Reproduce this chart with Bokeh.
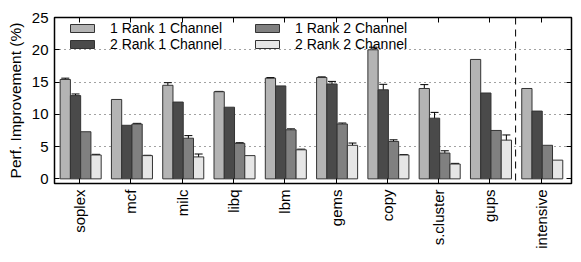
from bokeh.plotting import figure
from bokeh.models import (Range1d, FixedTicker, LinearAxis, Legend, LegendItem,
                          Span, Whisker, ColumnDataSource, TeeHead)
from bokeh.transform import dodge
from bokeh.embed import file_html
from bokeh.resources import INLINE

categories = ["soplex", "mcf", "milc", "libq", "lbm", "gems", "copy",
              "s.cluster", "gups", "intensive"]
series_names = ["1 Rank 1 Channel", "2 Rank 1 Channel",
                "1 Rank 2 Channel", "2 Rank 2 Channel"]
r1c1 = [15.4, 12.3, 14.5, 13.5, 15.6, 15.7, 20.0, 14.0, 18.5, 14.0]
r2c1 = [12.9, 8.3, 11.9, 11.1, 14.4, 14.7, 13.8, 9.4, 13.3, 10.5]
r1c2 = [7.3, 8.5, 6.3, 5.5, 7.6, 8.5, 5.8, 4.0, 7.5, 5.2]
r2c2 = [3.7, 3.6, 3.4, 3.6, 4.5, 5.2, 3.7, 2.3, 6.0, 2.9]
err_r1c1 = [0.2, 0.0, 0.4, 0.05, 0.1, 0.1, 0.4, 0.6, 0.0, 0.0]
err_r2c1 = [0.25, 0.0, 0.0, 0.0, 0.0, 0.4, 0.85, 0.9, 0.0, 0.0]
err_r1c2 = [0.0, 0.1, 0.4, 0.1, 0.15, 0.15, 0.25, 0.35, 0.0, 0.0]
err_r2c2 = [0.1, 0.05, 0.45, 0.0, 0.1, 0.35, 0.05, 0.1, 0.8, 0.0]
y_ticks = [0, 5, 10, 15, 20, 25]

colors = ["#b4b4b4", "#4a4a4a", "#808080", "#e6e6e6"]
offsets = [-0.28, -0.08, 0.12, 0.32]
values = [r1c1, r2c1, r1c2, r2c2]
errors = [err_r1c1, err_r2c1, err_r1c2, err_r2c2]

FONT = "Liberation Sans"

p = figure(width=573, height=254, output_backend="svg", toolbar_location=None,
           x_range=Range1d(-0.49, 9.59), y_range=Range1d(-0.72, 25),
           min_border_left=54, min_border_right=2, min_border_top=17,
           min_border_bottom=71)
p.background_fill_color = "white"
p.border_fill_color = "white"
p.outline_line_color = "black"
p.outline_line_width = 1.5

xs = list(range(len(categories)))
renderers = []
for i in range(4):
    src = ColumnDataSource(dict(x=xs, top=values[i]))
    r = p.vbar(x=dodge("x", offsets[i], range=p.x_range), top="top", bottom=0,
               width=0.2, source=src, fill_color=colors[i],
               line_color="#333333", line_width=1)
    renderers.append(r)
    ex = [x for x, e in zip(xs, errors[i]) if e > 0]
    et = [v for v, e in zip(values[i], errors[i]) if e > 0]
    ee = [e for e in errors[i] if e > 0]
    esrc = ColumnDataSource(dict(x=ex, upper=[a + b for a, b in zip(et, ee)],
                                 lower=[a - b for a, b in zip(et, ee)]))
    w = Whisker(base=dodge("x", offsets[i], range=p.x_range), upper="upper",
                lower="lower", source=esrc, line_color="black", line_width=1,
                upper_head=TeeHead(size=8, line_color="black", line_width=1),
                lower_head=TeeHead(size=8, line_color="black", line_width=1))
    p.add_layout(w)

p.add_layout(Span(location=8.5, dimension="height", line_color="black",
                  line_width=1, line_dash="7 5"))

p.xgrid.visible = False
p.ygrid.ticker = FixedTicker(ticks=[5, 10, 15, 20])
p.ygrid.grid_line_color = "#444444"
p.ygrid.grid_line_dash = "1 4"
p.ygrid.grid_line_width = 1

xa = p.xaxis[0]
xa.ticker = FixedTicker(ticks=xs)
xa.major_label_overrides = {i: c for i, c in enumerate(categories)}
xa.major_label_orientation = 1.5708
xa.major_label_text_font = FONT
xa.major_label_text_font_size = "15px"
xa.major_label_text_color = "black"
xa.major_label_standoff = 6
xa.major_tick_in = 5
xa.major_tick_out = 0
xa.minor_tick_line_color = None
xa.axis_line_color = "black"

ya = p.yaxis[0]
ya.ticker = FixedTicker(ticks=y_ticks)
ya.major_label_text_font = FONT
ya.major_label_text_font_size = "15px"
ya.major_label_text_color = "black"
ya.major_label_standoff = 6
ya.major_tick_in = 5
ya.major_tick_out = 0
ya.minor_tick_line_color = None
ya.axis_label = "Perf. Improvement (%)"
ya.axis_label_text_font = FONT
ya.axis_label_text_font_size = "15.5px"
ya.axis_label_text_font_style = "normal"
ya.axis_label_text_color = "black"
ya.axis_label_standoff = 5

top_ax = LinearAxis(ticker=FixedTicker(ticks=xs), major_tick_in=5, major_tick_out=0,
                    minor_tick_line_color=None, major_label_text_font_size="0px",
                    major_label_standoff=0, major_label_overrides={i: "" for i in xs})
p.add_layout(top_ax, "above")
right_ax = LinearAxis(ticker=FixedTicker(ticks=y_ticks), major_tick_in=5, major_tick_out=0,
                      minor_tick_line_color=None, major_label_text_font_size="0px",
                      major_label_standoff=0,
                      major_label_overrides={t: "" for t in y_ticks})
p.add_layout(right_ax, "right")

def make_legend(items, x, y):
    lg = Legend(items=items, location=(x, y), orientation="vertical",
                background_fill_alpha=0, border_line_color=None,
                glyph_width=30, glyph_height=10, label_height=13,
                label_standoff=13, spacing=0, padding=0, margin=0,
                label_text_font=FONT, label_text_font_size="14px",
                label_text_line_height=0.8,
                label_text_color="black")
    p.add_layout(lg, "center")
    return lg

make_legend([LegendItem(label=series_names[0], renderers=[renderers[0]]),
             LegendItem(label=series_names[1], renderers=[renderers[1]])], 13, 131)
make_legend([LegendItem(label=series_names[2], renderers=[renderers[2]]),
             LegendItem(label=series_names[3], renderers=[renderers[3]])], 198, 131)

open("out.html", "w").write(file_html(p, INLINE))
